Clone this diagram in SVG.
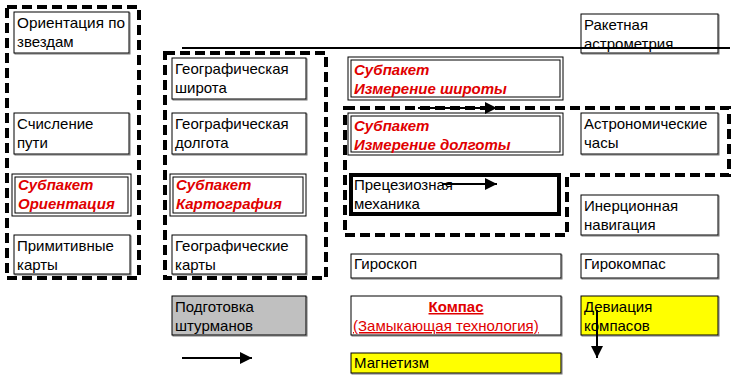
<svg xmlns="http://www.w3.org/2000/svg" width="739" height="383" viewBox="0 0 739 383">
<style>
.b{fill:#fff;stroke:#000;stroke-width:1}
.sh{fill:none;stroke:#777;stroke-width:1}
.y{fill:#ffff00}
.g{fill:#c0c0c0}
.thick{fill:#fff;stroke:#000;stroke-width:4}
.dash{fill:none;stroke:#000;stroke-width:4;stroke-dasharray:10 5}
.t{font-family:"Liberation Sans",Arial,sans-serif;font-size:15px;fill:#000}
.r{font-family:"Liberation Sans",Arial,sans-serif;font-size:15px;fill:#e00000;font-weight:bold;font-style:italic}
.ru{font-family:"Liberation Sans",Arial,sans-serif;font-size:15px;fill:#e00000;text-decoration:underline}
.ln{stroke:#000;stroke-width:2;fill:none}
</style>
<defs>
<marker id="ah" viewBox="0 0 10 10" refX="10" refY="5" markerWidth="6" markerHeight="6" orient="auto" markerUnits="strokeWidth"><path d="M0,0 L10,5 L0,10 z" fill="#000"/></marker>
</defs>
<g id="groups">
<rect class="dash" x="7" y="7" width="132" height="271"/>
<rect class="dash" x="165" y="53" width="161" height="225"/>
<path class="dash" d="M345,108 L729,108 L729,175 L567,175 L567,235 L345,235 Z"/>
</g>
<g id="n1"><rect class="sh" x="15" y="13" width="115" height="41"/><rect class="b" x="14" y="12" width="115" height="41"/><text class="t" x="17" y="28" textLength="108" lengthAdjust="spacingAndGlyphs">Ориентация по</text><text class="t" x="17" y="47">звездам</text></g>
<g id="n2"><rect class="sh" x="15" y="114" width="115" height="41"/><rect class="b" x="14" y="113" width="115" height="41"/><text class="t" x="17" y="129">Счисление</text><text class="t" x="17" y="148">пути</text></g>
<g id="n3"><rect class="b" x="12" y="174" width="119" height="42"/><rect class="b" x="15" y="177" width="113" height="36"/><text class="r" x="18" y="190">Субпакет</text><text class="r" x="18" y="209">Ориентация</text></g>
<g id="n4"><rect class="sh" x="15" y="236" width="116" height="39"/><rect class="b" x="14" y="235" width="116" height="39"/><text class="t" x="17" y="251">Примитивные</text><text class="t" x="17" y="270">карты</text></g>
<g id="n5"><rect class="sh" x="173" y="59" width="134" height="41"/><rect class="b" x="172" y="58" width="134" height="41"/><text class="t" x="175" y="74">Географическая</text><text class="t" x="175" y="93">широта</text></g>
<g id="n6"><rect class="sh" x="173" y="114" width="134" height="41"/><rect class="b" x="172" y="113" width="134" height="41"/><text class="t" x="175" y="129">Географическая</text><text class="t" x="175" y="148">долгота</text></g>
<g id="n7"><rect class="b" x="170" y="174" width="136" height="42"/><rect class="b" x="173" y="177" width="130" height="36"/><text class="r" x="176" y="190">Субпакет</text><text class="r" x="176" y="209">Картография</text></g>
<g id="n8"><rect class="sh" x="173" y="236" width="134" height="39"/><rect class="b" x="172" y="235" width="134" height="39"/><text class="t" x="175" y="251">Географические</text><text class="t" x="175" y="270">карты</text></g>
<g id="n9"><rect class="sh" x="173" y="297" width="134" height="39"/><rect class="b g" x="172" y="296" width="134" height="39"/><text class="t" x="175" y="312">Подготовка</text><text class="t" x="175" y="331">штурманов</text></g>
<g id="n10"><rect class="sh" x="582" y="15" width="137" height="39"/><rect class="b" x="581" y="14" width="137" height="39"/><text class="t" x="584" y="30">Ракетная</text><text class="t" x="584" y="49">астрометрия</text></g>
<g id="n11"><rect class="b" x="348" y="57" width="215" height="43"/><rect class="b" x="351" y="60" width="209" height="37"/><text class="r" x="354" y="75">Субпакет</text><text class="r" x="354" y="94">Измерение широты</text></g>
<g id="n12"><rect class="b" x="348" y="113" width="215" height="42"/><rect class="b" x="351" y="116" width="209" height="36"/><text class="r" x="354" y="131">Субпакет</text><text class="r" x="354" y="150">Измерение долготы</text></g>
<g id="n13"><rect class="sh" x="582" y="114" width="137" height="41"/><rect class="b" x="581" y="113" width="137" height="41"/><text class="t" x="584" y="129">Астрономические</text><text class="t" x="584" y="148">часы</text></g>
<g id="n14"><rect class="thick" x="351" y="175" width="208" height="39"/><text class="t" x="354" y="190">Прецезиозная</text><text class="t" x="354" y="209">механика</text></g>
<g id="n15"><rect class="sh" x="582" y="196" width="137" height="40"/><rect class="b" x="581" y="195" width="137" height="40"/><text class="t" x="584" y="211">Инерционная</text><text class="t" x="584" y="230">навигация</text></g>
<g id="n16"><rect class="sh" x="352" y="255" width="210" height="24"/><rect class="b" x="351" y="254" width="210" height="24"/><text class="t" x="354" y="269">Гироскоп</text></g>
<g id="n17"><rect class="sh" x="582" y="255" width="137" height="24"/><rect class="b" x="581" y="254" width="137" height="24"/><text class="t" x="584" y="269">Гирокомпас</text></g>
<g id="n18"><rect class="sh" x="352" y="297" width="210" height="39"/><rect class="b" x="351" y="296" width="210" height="39"/><text class="ru" x="456" y="312" text-anchor="middle" font-weight="bold">Компас</text><text class="ru" x="353" y="331">(Замыкающая технология)</text></g>
<g id="n19"><rect class="sh" x="582" y="297" width="137" height="39"/><rect class="b y" x="581" y="296" width="137" height="39"/><text class="t" x="584" y="312">Девиация</text><text class="t" x="584" y="331">компасов</text></g>
<g id="n20"><rect class="sh" x="352" y="354" width="210" height="20"/><rect class="b y" x="351" y="353" width="210" height="20"/><text class="t" x="354" y="368">Магнетизм</text></g>
<g id="connectors">
<line class="ln" x1="182" y1="48" x2="730" y2="48"/>
<line class="ln" x1="182" y1="358" x2="252" y2="358" marker-end="url(#ah)"/>
<line class="ln" x1="418" y1="108" x2="497" y2="108" marker-end="url(#ah)"/>
<line class="ln" x1="442" y1="184" x2="497" y2="184" marker-end="url(#ah)"/>
<line class="ln" x1="597" y1="310" x2="597" y2="358" marker-end="url(#ah)"/>
</g>
</svg>
